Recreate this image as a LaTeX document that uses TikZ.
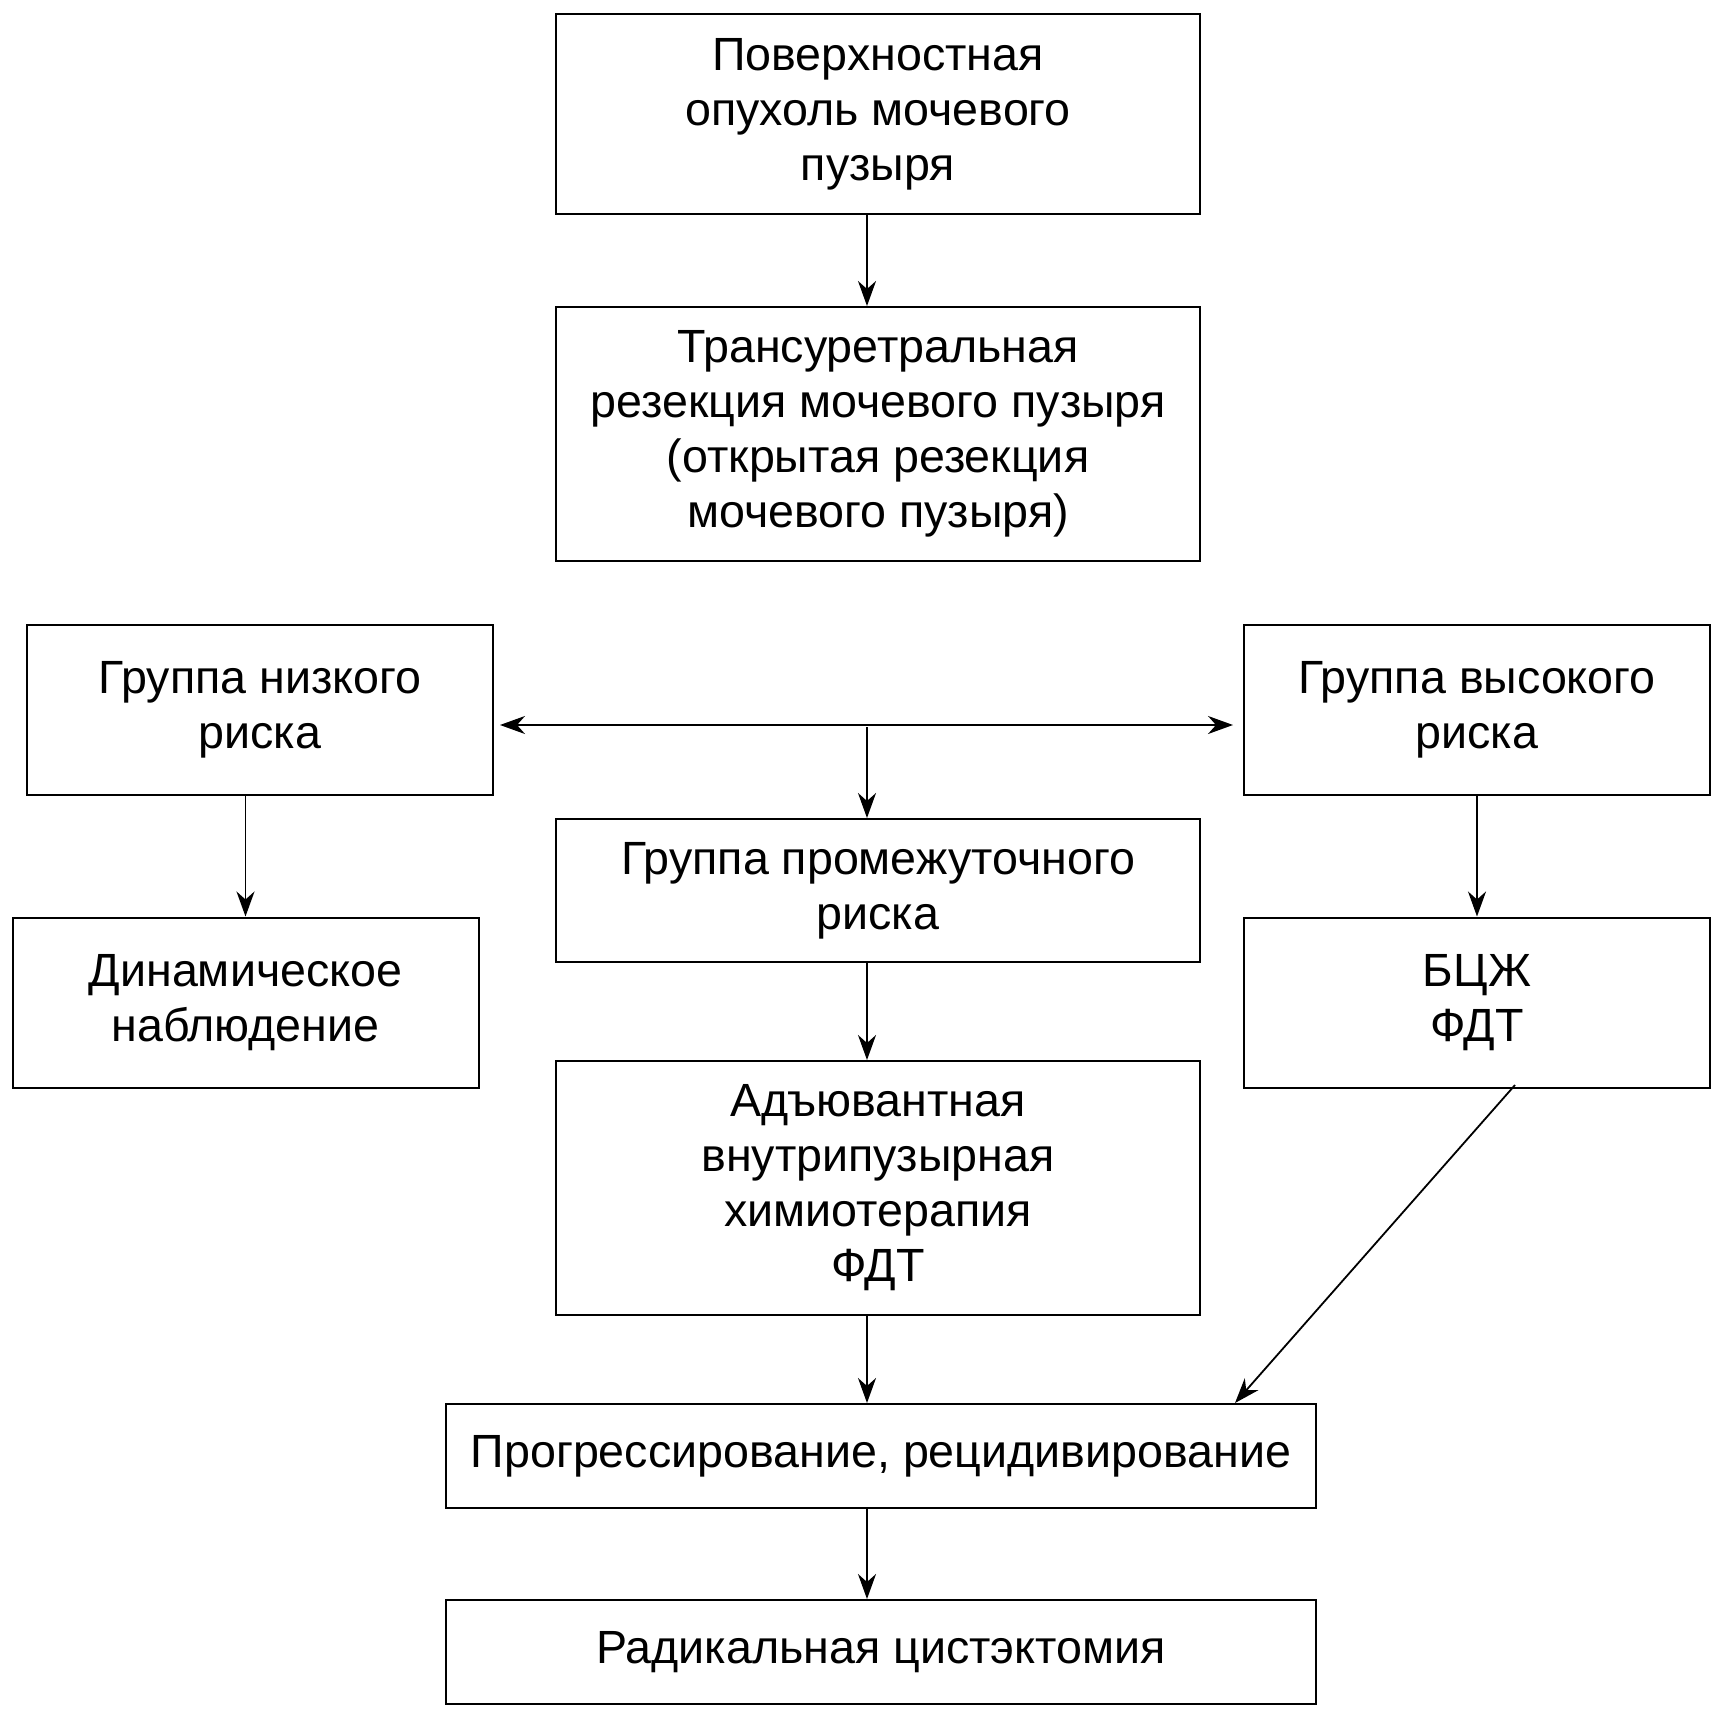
\documentclass[tikz,border=0pt]{standalone}
\usepackage{fontspec}
\setmainfont{Liberation Sans}
\usetikzlibrary{arrows.meta}
\tikzset{
	box/.style={draw, line width=1pt, align=center, inner sep=0pt,
		font=\fontsize{23.3}{27.5}\selectfont},
	wide/.style={minimum width=322pt},
	side/.style={minimum width=233pt, minimum height=85pt},
	flat/.style={minimum width=435pt, minimum height=52pt},
	tip/.tip={Stealth[length=12.5pt,width=9pt,inset=4pt]},
	arr/.style={-tip, line width=0.9pt},
	dbl/.style={tip-tip, line width=0.9pt},
}

\begin{document}
\begin{tikzpicture}[x=0.5pt,y=-0.5pt]
			\useasboundingbox (0,0) rectangle (1724,1717);
			% Spine
			\def\spinex{867}
			\def\huby{725}

			\node[box, wide, minimum height=100pt] (tumor) at (878,114) {Поверхностная\\опухоль мочевого\\пузыря};
			\node[box, wide, minimum height=127pt] (tur) at (878,434) {Трансуретральная\\резекция мочевого пузыря\\(открытая резекция\\мочевого пузыря)};
			\node[box, side] (low) at (260,710) {Группа низкого\\риска};
			\node[box, side] (high) at (1477,710) {Группа высокого\\риска};
			\node[box, wide, minimum height=71.5pt] (mid) at (878,890.5) {Группа промежуточного\\риска};
			\node[box, side] (dyn) at (245.5,1002.5) {Динамическое\\наблюдение};
			\node[box, side] (bcg) at (1477,1002.5) {БЦЖ\\ФДТ};
			\node[box, wide, minimum height=127pt] (adj) at (878,1188) {Адъювантная\\внутрипузырная\\химиотерапия\\ФДТ};
			\node[box, flat] (prog) at (881,1456) {Прогрессирование, рецидивирование};
			\node[box, flat] (cyst) at (881,1652) {Радикальная цистэктомия};

			\coordinate (spine) at (\spinex,0);
			\coordinate (hub) at (\spinex,\huby);
			\coordinate (bcgout) at (1515,1085);

			% Arrows
			\draw[arr] (tumor.south -| spine) -- (tur.north -| spine);
			\draw[dbl, shorten <=3pt, shorten >=5pt] (low.east |- hub) -- (high.west |- hub);
			\draw[arr] ([yshift=-1pt]hub) -- (mid.north -| spine);
			\draw[arr] (dyn.north |- low.south) -- (dyn.north);
			\draw[arr] (high.south) -- (bcg.north);
			\draw[arr] (mid.south -| spine) -- (adj.north -| spine);
			\draw[arr] (adj.south -| spine) -- (prog.north -| spine);
			\draw[arr] (prog.south -| spine) -- (cyst.north -| spine);
			\draw[arr] (bcgout) -- ([xshift=-41pt]prog.north east);
		\end{tikzpicture}
\end{document}
